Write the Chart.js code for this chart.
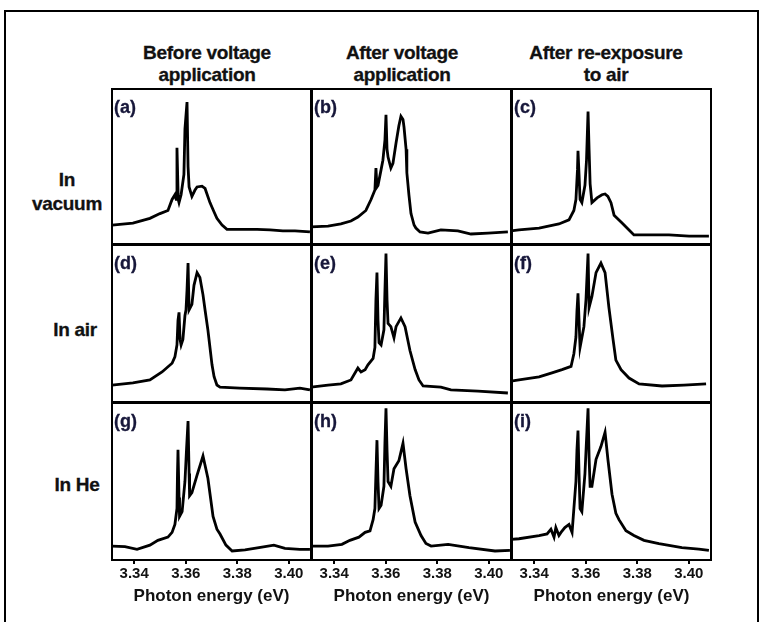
<!DOCTYPE html>
<html>
<head>
<meta charset="utf-8">
<script src="https://cdn.jsdelivr.net/npm/chart.js@4.4.1/dist/chart.umd.min.js"></script>
<style>
  body { margin: 0; width: 767px; height: 622px; background: #fff; position: relative; overflow: hidden;
         font-family: "Liberation Sans", Arial, sans-serif; font-weight: bold; color: #111; }
  .frame { position: absolute; left: 4px; top: 10px; width: 751px; height: 700px; border: 2px solid #000; border-bottom: none; }
  .head { position: absolute; width: 240px; text-align: center; font-size: 19px; line-height: 22px; letter-spacing: -0.3px; -webkit-text-stroke: 0.3px #111; }
  .row { position: absolute; width: 120px; text-align: center; font-size: 19px; line-height: 24px; letter-spacing: -0.3px; -webkit-text-stroke: 0.3px #111; }
  .tag { position: absolute; font-size: 18px; color: #17173a; -webkit-text-stroke: 0.3px #17173a; }
  canvas { position: absolute; }
</style>
</head>
<body>
<div class="frame"></div>
<div class="head" style="left:87px; top:42px">Before voltage<br>application</div>
<div class="head" style="left:282px; top:42px">After voltage<br>application</div>
<div class="head" style="left:486px; top:42px">After re-exposure<br>to air</div>
<div class="row" style="left:7px; top:168px">In<br>vacuum</div>
<div class="row" style="left:15px; top:318px">In air</div>
<div class="row" style="left:17px; top:473px">In He</div>
<div id="plots"></div>
<script>
const xMin = 3.331, xMax = 3.409;
const tickValues = [3.34, 3.36, 3.38, 3.40];
const panelTags = ['(a)', '(b)', '(c)', '(d)', '(e)', '(f)', '(g)', '(h)', '(i)'];

// (a) in vacuum, before voltage
const energyA = [3.3314, 3.3395, 3.3461, 3.350, 3.3531, 3.3547, 3.3558, 3.3563, 3.3566, 3.3571, 3.3574, 3.3582, 3.3593, 3.3597, 3.3605, 3.3609, 3.3613, 3.3624, 3.3636, 3.3644, 3.3663, 3.3675, 3.3694, 3.371, 3.3721, 3.3741, 3.376, 3.381, 3.3877, 3.3927, 3.3977, 3.4024, 3.4082];
const intensityA = [0.127, 0.14, 0.17, 0.20, 0.22, 0.29, 0.32, 0.29, 0.62, 0.29, 0.27, 0.32, 0.45, 0.74, 0.91, 0.50, 0.37, 0.31, 0.35, 0.37, 0.375, 0.36, 0.27, 0.21, 0.17, 0.127, 0.10, 0.10, 0.10, 0.096, 0.09, 0.09, 0.083];

// (b) in vacuum, after voltage
const energyB = [3.331, 3.3376, 3.3426, 3.3465, 3.3492, 3.3523, 3.3543, 3.3558, 3.3562, 3.3566, 3.357, 3.3582, 3.3589, 3.3597, 3.3601, 3.3605, 3.3609, 3.362, 3.3628, 3.364, 3.3651, 3.3659, 3.3667, 3.3671, 3.3679, 3.3682, 3.369, 3.3698, 3.371, 3.3717, 3.3733, 3.3764, 3.3814, 3.388, 3.3931, 3.3997, 3.4074];
const intensityB = [0.115, 0.12, 0.134, 0.153, 0.178, 0.22, 0.29, 0.35, 0.49, 0.37, 0.38, 0.48, 0.54, 0.67, 0.83, 0.61, 0.56, 0.49, 0.52, 0.65, 0.76, 0.82, 0.80, 0.75, 0.61, 0.46, 0.32, 0.20, 0.127, 0.108, 0.083, 0.076, 0.096, 0.09, 0.07, 0.076, 0.083];

// (c) in vacuum, after re-exposure
const energyC = [3.331, 3.3341, 3.3419, 3.3496, 3.3535, 3.3554, 3.3562, 3.3568, 3.357, 3.3574, 3.3578, 3.3585, 3.3597, 3.3603, 3.3609, 3.3613, 3.3617, 3.3624, 3.3644, 3.3663, 3.3675, 3.3686, 3.3698, 3.371, 3.3725, 3.3741, 3.3768, 3.3787, 3.3865, 3.3923, 3.4001, 3.4078];
const intensityC = [0.09, 0.096, 0.108, 0.134, 0.16, 0.22, 0.29, 0.48, 0.60, 0.45, 0.29, 0.27, 0.38, 0.54, 0.85, 0.61, 0.39, 0.27, 0.30, 0.32, 0.325, 0.31, 0.27, 0.19, 0.166, 0.14, 0.096, 0.064, 0.064, 0.064, 0.057, 0.057];

// (d) in air, before voltage
const energyD = [3.3314, 3.3395, 3.3461, 3.3508, 3.3547, 3.3558, 3.3566, 3.357, 3.3574, 3.3578, 3.3582, 3.3589, 3.3597, 3.3601, 3.3605, 3.3609, 3.3613, 3.3624, 3.3632, 3.3644, 3.3655, 3.3667, 3.3675, 3.3686, 3.3694, 3.3702, 3.371, 3.3721, 3.3733, 3.381, 3.3915, 3.3985, 3.4043, 3.4082];
const intensityD = [0.113, 0.126, 0.145, 0.195, 0.25, 0.29, 0.365, 0.52, 0.57, 0.40, 0.365, 0.40, 0.55, 0.585, 0.71, 0.88, 0.585, 0.62, 0.74, 0.82, 0.79, 0.68, 0.585, 0.46, 0.35, 0.24, 0.165, 0.113, 0.10, 0.094, 0.088, 0.082, 0.094, 0.082];

// (e) in air, after voltage
const energyE = [3.331, 3.3376, 3.3426, 3.3465, 3.3492, 3.3504, 3.352, 3.3531, 3.3551, 3.3558, 3.3562, 3.3566, 3.357, 3.3574, 3.3582, 3.3593, 3.3597, 3.3601, 3.3605, 3.3609, 3.362, 3.3632, 3.364, 3.3659, 3.3675, 3.3694, 3.3714, 3.3729, 3.3745, 3.3814, 3.3853, 3.3958, 3.4074];
const intensityE = [0.10, 0.113, 0.12, 0.145, 0.22, 0.195, 0.21, 0.24, 0.28, 0.35, 0.65, 0.82, 0.52, 0.38, 0.365, 0.46, 0.71, 0.94, 0.65, 0.50, 0.48, 0.41, 0.48, 0.535, 0.48, 0.33, 0.21, 0.145, 0.107, 0.10, 0.082, 0.075, 0.063];

// (f) in air, after re-exposure
const energyF = [3.331, 3.3341, 3.3419, 3.3469, 3.3508, 3.3543, 3.3554, 3.3562, 3.3566, 3.357, 3.3574, 3.3578, 3.3593, 3.3601, 3.3609, 3.3613, 3.3624, 3.364, 3.3659, 3.3675, 3.369, 3.3706, 3.3717, 3.3737, 3.3768, 3.3807, 3.3896, 3.3981, 3.4067];
const intensityF = [0.138, 0.145, 0.165, 0.19, 0.21, 0.23, 0.31, 0.415, 0.58, 0.69, 0.52, 0.35, 0.48, 0.65, 0.94, 0.60, 0.67, 0.82, 0.88, 0.82, 0.60, 0.40, 0.27, 0.21, 0.157, 0.12, 0.107, 0.113, 0.12];

// (g) in He, before voltage
const energyG = [3.3314, 3.3364, 3.3411, 3.3461, 3.3492, 3.3531, 3.3547, 3.3558, 3.3566, 3.3568, 3.357, 3.3574, 3.3576, 3.3586, 3.3597, 3.3603, 3.3609, 3.3613, 3.3615, 3.3624, 3.3644, 3.3667, 3.3686, 3.3706, 3.3721, 3.3733, 3.3756, 3.378, 3.383, 3.3884, 3.3942, 3.3985, 3.4043, 3.4082];
const intensityG = [0.094, 0.09, 0.073, 0.10, 0.13, 0.15, 0.18, 0.23, 0.33, 0.55, 0.70, 0.40, 0.28, 0.31, 0.50, 0.70, 0.88, 0.55, 0.41, 0.43, 0.54, 0.66, 0.52, 0.28, 0.20, 0.17, 0.10, 0.063, 0.07, 0.084, 0.10, 0.08, 0.073, 0.073];

// (h) in He, after voltage
const energyH = [3.331, 3.3376, 3.343, 3.3461, 3.3496, 3.352, 3.3539, 3.3551, 3.3558, 3.3562, 3.3566, 3.357, 3.3574, 3.3582, 3.3593, 3.3597, 3.3601, 3.3605, 3.3609, 3.362, 3.3632, 3.3651, 3.3667, 3.3679, 3.3694, 3.3714, 3.3737, 3.3756, 3.3776, 3.3842, 3.3923, 3.4024, 3.4082];
const intensityH = [0.094, 0.094, 0.105, 0.13, 0.15, 0.18, 0.19, 0.26, 0.33, 0.55, 0.76, 0.50, 0.33, 0.35, 0.47, 0.75, 0.96, 0.70, 0.50, 0.47, 0.58, 0.63, 0.74, 0.58, 0.41, 0.245, 0.16, 0.11, 0.094, 0.105, 0.084, 0.063, 0.067];

// (i) in He, after re-exposure
const energyI = [3.331, 3.3341, 3.3419, 3.345, 3.3465, 3.3477, 3.3484, 3.3496, 3.3504, 3.3519, 3.3535, 3.3547, 3.3554, 3.3562, 3.3566, 3.357, 3.3574, 3.3578, 3.3585, 3.3597, 3.3601, 3.3609, 3.3613, 3.3617, 3.3624, 3.364, 3.3659, 3.3675, 3.3686, 3.3702, 3.3717, 3.3729, 3.3756, 3.3787, 3.3826, 3.3884, 3.3973, 3.4039, 3.4078];
const intensityI = [0.136, 0.14, 0.16, 0.17, 0.20, 0.15, 0.21, 0.16, 0.18, 0.21, 0.23, 0.18, 0.33, 0.50, 0.70, 0.82, 0.55, 0.33, 0.31, 0.55, 0.69, 0.96, 0.65, 0.47, 0.47, 0.64, 0.72, 0.81, 0.64, 0.42, 0.30, 0.26, 0.19, 0.16, 0.13, 0.11, 0.084, 0.075, 0.067];

const spectra = [
  [energyA, intensityA], [energyB, intensityB], [energyC, intensityC],
  [energyD, intensityD], [energyE, intensityE], [energyF, intensityF],
  [energyG, intensityG], [energyH, intensityH], [energyI, intensityI]
];

// panel grid placement
const colLeft = [111, 311, 511];
const colWidth = 201;
const rowTop = [88, 244, 402];
const rowHeight = [157, 159, 159];
const axisBand = 50;

const boldFont = { family: '"Liberation Sans", Arial, sans-serif', weight: 'bold' };

// frame around each chart area
const panelBorder = {
  id: 'panelBorder',
  afterDraw(chart) {
    const { ctx, chartArea: a } = chart;
    ctx.save();
    ctx.strokeStyle = '#000';
    ctx.lineWidth = 2;
    ctx.strokeRect(a.left + 1, a.top + 1, a.right - a.left - 2, a.bottom - a.top - 2);
    ctx.restore();
  }
};

const plots = document.getElementById('plots');

spectra.forEach(([xs, ys], i) => {
  const row = Math.floor(i / 3), col = i % 3;
  const isBottom = row === 2;

  const canvas = document.createElement('canvas');
  canvas.width = colWidth;
  canvas.height = rowHeight[row] + (isBottom ? axisBand : 0);
  canvas.style.left = colLeft[col] + 'px';
  canvas.style.top = rowTop[row] + 'px';
  canvas.style.width = canvas.width + 'px';
  canvas.style.height = canvas.height + 'px';
  plots.appendChild(canvas);

  const tag = document.createElement('div');
  tag.className = 'tag';
  tag.textContent = panelTags[i];
  tag.style.left = (colLeft[col] + 3) + 'px';
  tag.style.top = (rowTop[row] + 9) + 'px';
  plots.appendChild(tag);

  new Chart(canvas.getContext('2d'), {
    type: 'line',
    data: {
      datasets: [{
        data: xs.map((x, k) => ({ x: x, y: ys[k] })),
        borderColor: '#000',
        borderWidth: 2.8,
        pointRadius: 0,
        tension: 0,
        fill: false
      }]
    },
    options: {
      responsive: false,
      maintainAspectRatio: false,
      animation: false,
      layout: { padding: 0 },
      plugins: { legend: { display: false }, tooltip: { enabled: false } },
      scales: {
        x: {
          type: 'linear',
          min: xMin,
          max: xMax,
          display: isBottom,
          afterBuildTicks: s => { s.ticks = tickValues.map(v => ({ value: v })); },
          afterFit: s => { s.height = isBottom ? axisBand : 0; },
          ticks: {
            autoSkip: false,
            maxRotation: 0,
            padding: 1,
            color: '#111',
            font: { ...boldFont, size: 15 },
            callback: v => v.toFixed(2)
          },
          grid: { drawOnChartArea: false, drawTicks: true, tickLength: 3, color: '#000', lineWidth: 2 },
          border: { display: false },
          title: {
            display: true,
            text: 'Photon energy (eV)',
            color: '#111',
            font: { ...boldFont, size: 17 },
            padding: { top: 0, bottom: 4 }
          }
        },
        y: { display: false, min: 0, max: 1 }
      }
    },
    plugins: [panelBorder]
  });
});
</script>
</body>
</html>
